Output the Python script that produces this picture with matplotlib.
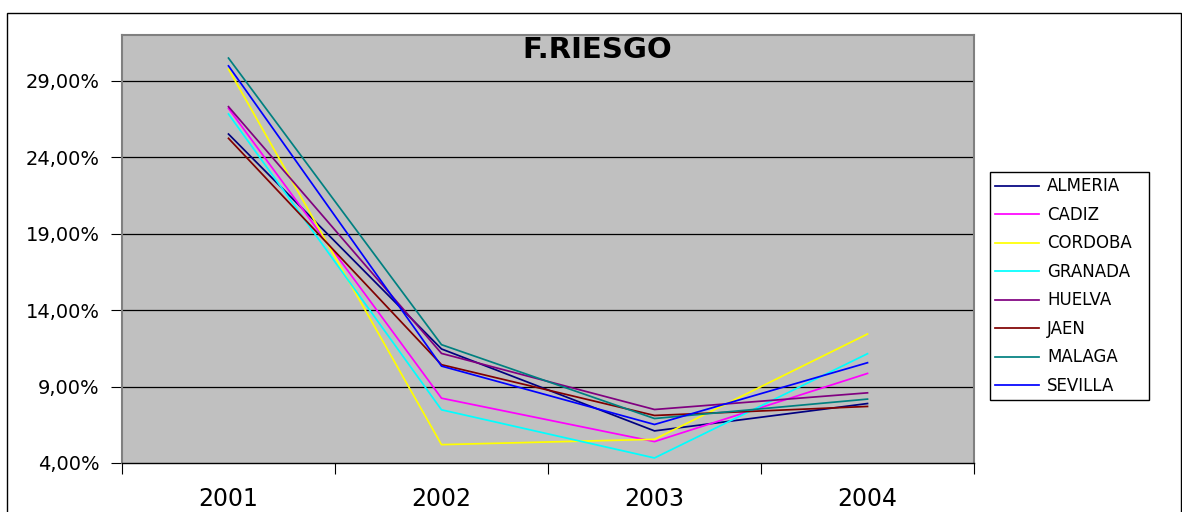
import matplotlib
matplotlib.use("Agg")
import matplotlib.pyplot as plt
from matplotlib.patches import Rectangle

years = ["2001", "2002", "2003", "2004"]
almeria = [25.52, 11.46, 6.10, 7.89]
cadiz = [27.20, 8.24, 5.40, 9.86]
cordoba = [29.77, 5.20, 5.55, 12.44]
granada = [26.83, 7.48, 4.33, 11.15]
huelva = [27.31, 11.17, 7.50, 8.59]
jaen = [25.24, 10.43, 7.11, 7.70]
malaga = [30.49, 11.74, 6.91, 8.18]
sevilla = [29.98, 10.34, 6.52, 10.56]

series_names = ["ALMERIA", "CADIZ", "CORDOBA", "GRANADA", "HUELVA", "JAEN", "MALAGA", "SEVILLA"]
series_values = [almeria, cadiz, cordoba, granada, huelva, jaen, malaga, sevilla]
series_colors = ["#000080", "#FF00FF", "#FFFF00", "#00FFFF", "#800080", "#800000", "#008080", "#0000FF"]
y_ticks = [4, 9, 14, 19, 24, 29]
title = "F.RIESGO"

W, H = 1182, 512
fig = plt.figure(figsize=(W / 100, H / 100), dpi=100)
fig.patch.set_facecolor("white")

# outer chart border
fig.add_artist(Rectangle((7 / W, -0.1), (1181 - 7) / W, 1 - 13 / H + 0.1,
                         transform=fig.transFigure, fill=False,
                         edgecolor="black", linewidth=1.0))

ax = fig.add_axes([122 / W, (H - 463) / H, (974 - 122) / W, (463 - 35) / H])
ax.set_facecolor("#C0C0C0")

x = list(range(len(years)))
handles = []
for name, vals, col in zip(series_names, series_values, series_colors):
    ln, = ax.plot(x, vals, color=col, linewidth=1.25, label=name)
    handles.append(ln)

ax.set_xlim(-0.5, len(years) - 0.5)
ax.set_ylim(4, 32)

ax.set_yticks(y_ticks)
ax.set_yticklabels([("%.2f%%" % v).replace(".", ",") for v in y_ticks], fontsize=14)
ax.tick_params(axis="y", direction="out", length=8, width=0.8, pad=8, colors="black")
for v in y_ticks[1:]:
    ax.axhline(v, color="black", linewidth=0.9, zorder=0.5)

ax.set_xticks([i - 0.5 for i in range(len(years) + 1)])
ax.set_xticklabels([])
ax.set_xticks(x, minor=True)
ax.set_xticklabels(years, minor=True, fontsize=17)
ax.tick_params(axis="x", which="major", direction="out", length=8, width=0.8)
ax.tick_params(axis="x", which="minor", length=0, pad=17)

for s in ["top", "right", "left"]:
    ax.spines[s].set_color("#808080")
    ax.spines[s].set_linewidth(1.5)
ax.spines["bottom"].set_color("black")
ax.spines["bottom"].set_linewidth(1.0)

fig.text(597 / W, 1 - 50 / H, title, ha="center", va="center",
         fontsize=21, fontweight="bold", color="black")

leg = fig.legend(handles=handles, labels=series_names, loc="upper left",
                 bbox_to_anchor=(990 / W, 1 - 172 / H, (1149 - 990) / W, 0),
                 bbox_transform=fig.transFigure, mode="expand",
                 borderaxespad=0, fontsize=12, frameon=True, fancybox=False,
                 edgecolor="black", framealpha=1, labelspacing=0.63,
                 handlelength=2.6, handletextpad=0.5, borderpad=0.32)
leg.get_frame().set_linewidth(1.0)

fig.savefig("out.png", dpi=100)
